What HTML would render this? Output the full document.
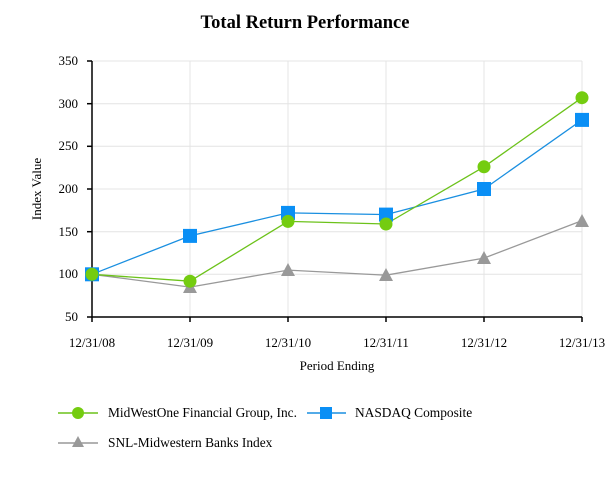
<!DOCTYPE html>
<html><head><style>body{margin:0;background:#fff}svg{display:block}text{font-family:"Liberation Serif",serif;fill:#000}</style></head><body>
<svg width="613" height="480" xmlns="http://www.w3.org/2000/svg">
<text x="305" y="28" font-size="18.5" font-weight="bold" text-anchor="middle">Total Return Performance</text>
<g stroke="#e4e4e4" stroke-width="1">
<line x1="92" y1="61" x2="582" y2="61"/><line x1="92" y1="103.7" x2="582" y2="103.7"/><line x1="92" y1="146.3" x2="582" y2="146.3"/><line x1="92" y1="189" x2="582" y2="189"/><line x1="92" y1="231.7" x2="582" y2="231.7"/><line x1="92" y1="274.3" x2="582" y2="274.3"/>
<line x1="190" y1="61" x2="190" y2="317"/><line x1="288" y1="61" x2="288" y2="317"/><line x1="386" y1="61" x2="386" y2="317"/><line x1="484" y1="61" x2="484" y2="317"/><line x1="582" y1="61" x2="582" y2="317"/>
</g>
<g stroke="#000" stroke-width="1.5">
<line x1="92" y1="61" x2="92" y2="322"/><line x1="87" y1="317" x2="582" y2="317"/>
<line x1="87" y1="61" x2="92" y2="61"/><line x1="87" y1="103.7" x2="92" y2="103.7"/><line x1="87" y1="146.3" x2="92" y2="146.3"/><line x1="87" y1="189" x2="92" y2="189"/><line x1="87" y1="231.7" x2="92" y2="231.7"/><line x1="87" y1="274.3" x2="92" y2="274.3"/>
<line x1="190" y1="317" x2="190" y2="322"/><line x1="288" y1="317" x2="288" y2="322"/><line x1="386" y1="317" x2="386" y2="322"/><line x1="484" y1="317" x2="484" y2="322"/><line x1="582" y1="317" x2="582" y2="322"/>
</g>
<g font-size="13" text-anchor="end">
<text x="78" y="65">350</text><text x="78" y="108">300</text><text x="78" y="150">250</text><text x="78" y="193">200</text><text x="78" y="236">150</text><text x="78" y="278">100</text><text x="78" y="321">50</text>
</g>
<g font-size="13" text-anchor="middle">
<text x="92" y="347">12/31/08</text><text x="190" y="347">12/31/09</text><text x="288" y="347">12/31/10</text><text x="386" y="347">12/31/11</text><text x="484" y="347">12/31/12</text><text x="582" y="347">12/31/13</text>
<text x="337" y="370">Period Ending</text>
<text transform="translate(41,189) rotate(-90)">Index Value</text>
</g>
<polyline fill="none" stroke="#999" stroke-width="1.3" points="92,274.3 190,287.1 288,270.1 386,275.2 484,258.1 582,220.6"/>
<polyline fill="none" stroke="#1a8fe0" stroke-width="1.3" points="92,274.3 190,235.9 288,212.9 386,214.6 484,189 582,119.9"/>
<polyline fill="none" stroke="#6cc21a" stroke-width="1.3" points="92,274.3 190,281.2 288,221.4 386,224 484,166.8 582,97.7"/>
<g fill="#999">
<polygon points="92,267 85,280 99,280"/><polygon points="190,280 183,293 197,293"/><polygon points="288,263 281,276 295,276"/><polygon points="386,268 379,281 393,281"/><polygon points="484,251 477,264 491,264"/><polygon points="582,214 575,227 589,227"/>
</g>
<g fill="#0a8ff5">
<rect x="85" y="267.3" width="14" height="14"/><rect x="183" y="228.9" width="14" height="14"/><rect x="281" y="205.9" width="14" height="14"/><rect x="379" y="207.6" width="14" height="14"/><rect x="477" y="182" width="14" height="14"/><rect x="575" y="112.9" width="14" height="14"/>
</g>
<g fill="#74cc10">
<circle cx="92" cy="274.3" r="6.5"/><circle cx="190" cy="281.2" r="6.5"/><circle cx="288" cy="221.4" r="6.5"/><circle cx="386" cy="224" r="6.5"/><circle cx="484" cy="166.8" r="6.5"/><circle cx="582" cy="97.7" r="6.5"/>
</g>
<line x1="58" y1="413" x2="98" y2="413" stroke="#6cc21a" stroke-width="1.5"/><circle cx="78" cy="413" r="6" fill="#74cc10"/>
<text x="108" y="417" font-size="13.4">MidWestOne Financial Group, Inc.</text>
<line x1="307" y1="413" x2="346" y2="413" stroke="#1a8fe0" stroke-width="1.5"/><rect x="320" y="407" width="12" height="12" fill="#0a8ff5"/>
<text x="355" y="417" font-size="13.4">NASDAQ Composite</text>
<line x1="58" y1="443" x2="98" y2="443" stroke="#999" stroke-width="1.5"/><polygon points="78,436 72,447 84,447" fill="#999"/>
<text x="108" y="447" font-size="13.4">SNL-Midwestern Banks Index</text>
</svg>
</body></html>
